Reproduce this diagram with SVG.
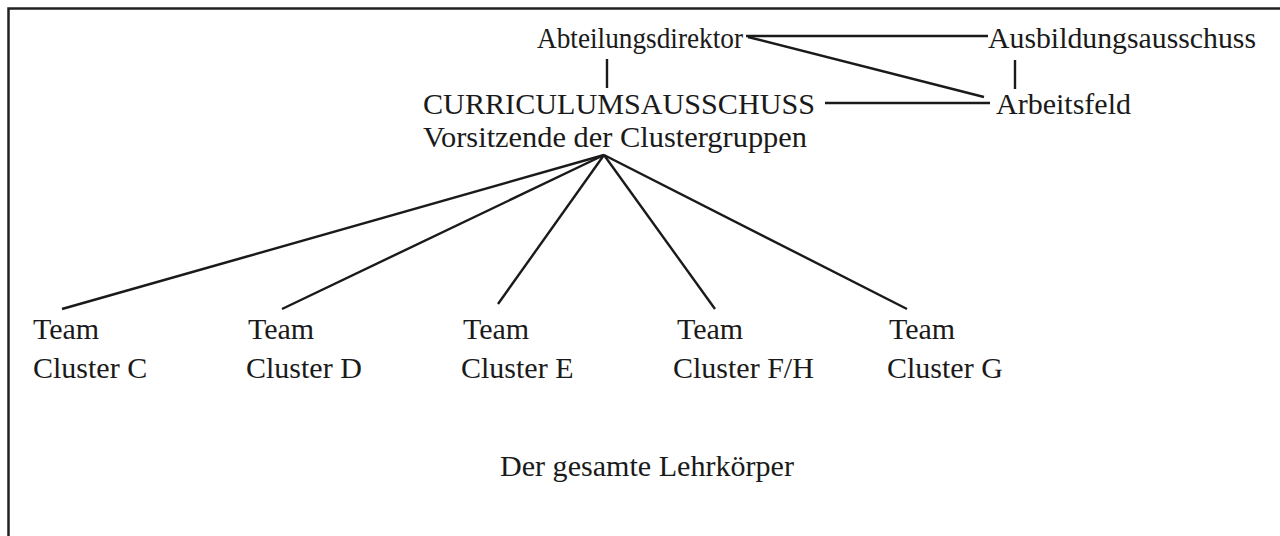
<svg xmlns="http://www.w3.org/2000/svg" width="1280" height="536" viewBox="0 0 1280 536">
<style>
text{font-family:"Liberation Serif","Times New Roman",serif;font-size:30px;fill:#1a1a1a}
.ln{stroke:#1a1a1a;stroke-width:2.4;fill:none;stroke-linecap:butt}
.frame{stroke:#222;stroke-width:2.5;fill:none}
</style>
<rect width="1280" height="536" fill="#ffffff"/>
<path class="frame" d="M8.5,536 V8.5 H1280"/>
<g id="connectors">
<line class="ln" x1="746" y1="36" x2="988" y2="36"/>
<line class="ln" x1="748" y1="37" x2="984" y2="97"/>
<line class="ln" x1="607" y1="59" x2="607" y2="88"/>
<line class="ln" x1="1015" y1="60" x2="1015" y2="89"/>
<line class="ln" x1="825" y1="103" x2="990" y2="103"/>
<line class="ln" x1="604" y1="155" x2="62" y2="309"/>
<line class="ln" x1="604" y1="155" x2="282" y2="309"/>
<line class="ln" x1="604" y1="155" x2="498" y2="304"/>
<line class="ln" x1="604" y1="155" x2="715" y2="309"/>
<line class="ln" x1="604" y1="155" x2="907" y2="309"/>
</g>
<g id="abteilungsdirektor"><text x="537" y="48" textLength="206" lengthAdjust="spacingAndGlyphs">Abteilungsdirektor</text></g>
<g id="ausbildungsausschuss"><text x="988" y="48" textLength="268" lengthAdjust="spacingAndGlyphs">Ausbildungsausschuss</text></g>
<g id="curriculumsausschuss"><text x="423" y="114" textLength="392" lengthAdjust="spacingAndGlyphs">CURRICULUMSAUSSCHUSS</text>
<text x="423" y="147" textLength="384" lengthAdjust="spacingAndGlyphs">Vorsitzende der Clustergruppen</text></g>
<g id="arbeitsfeld"><text x="996" y="114" textLength="135" lengthAdjust="spacingAndGlyphs">Arbeitsfeld</text></g>
<g id="cluster-c"><text x="33" y="339">Team</text><text x="33" y="378">Cluster C</text></g>
<g id="cluster-d"><text x="248" y="339">Team</text><text x="246" y="378">Cluster D</text></g>
<g id="cluster-e"><text x="463" y="339">Team</text><text x="461" y="378">Cluster E</text></g>
<g id="cluster-fh"><text x="677" y="339">Team</text><text x="673" y="378">Cluster F/H</text></g>
<g id="cluster-g"><text x="889" y="339">Team</text><text x="887" y="378">Cluster G</text></g>
<g id="lehrkoerper"><text x="500" y="476" textLength="294" lengthAdjust="spacingAndGlyphs">Der gesamte Lehrkörper</text></g>
</svg>
